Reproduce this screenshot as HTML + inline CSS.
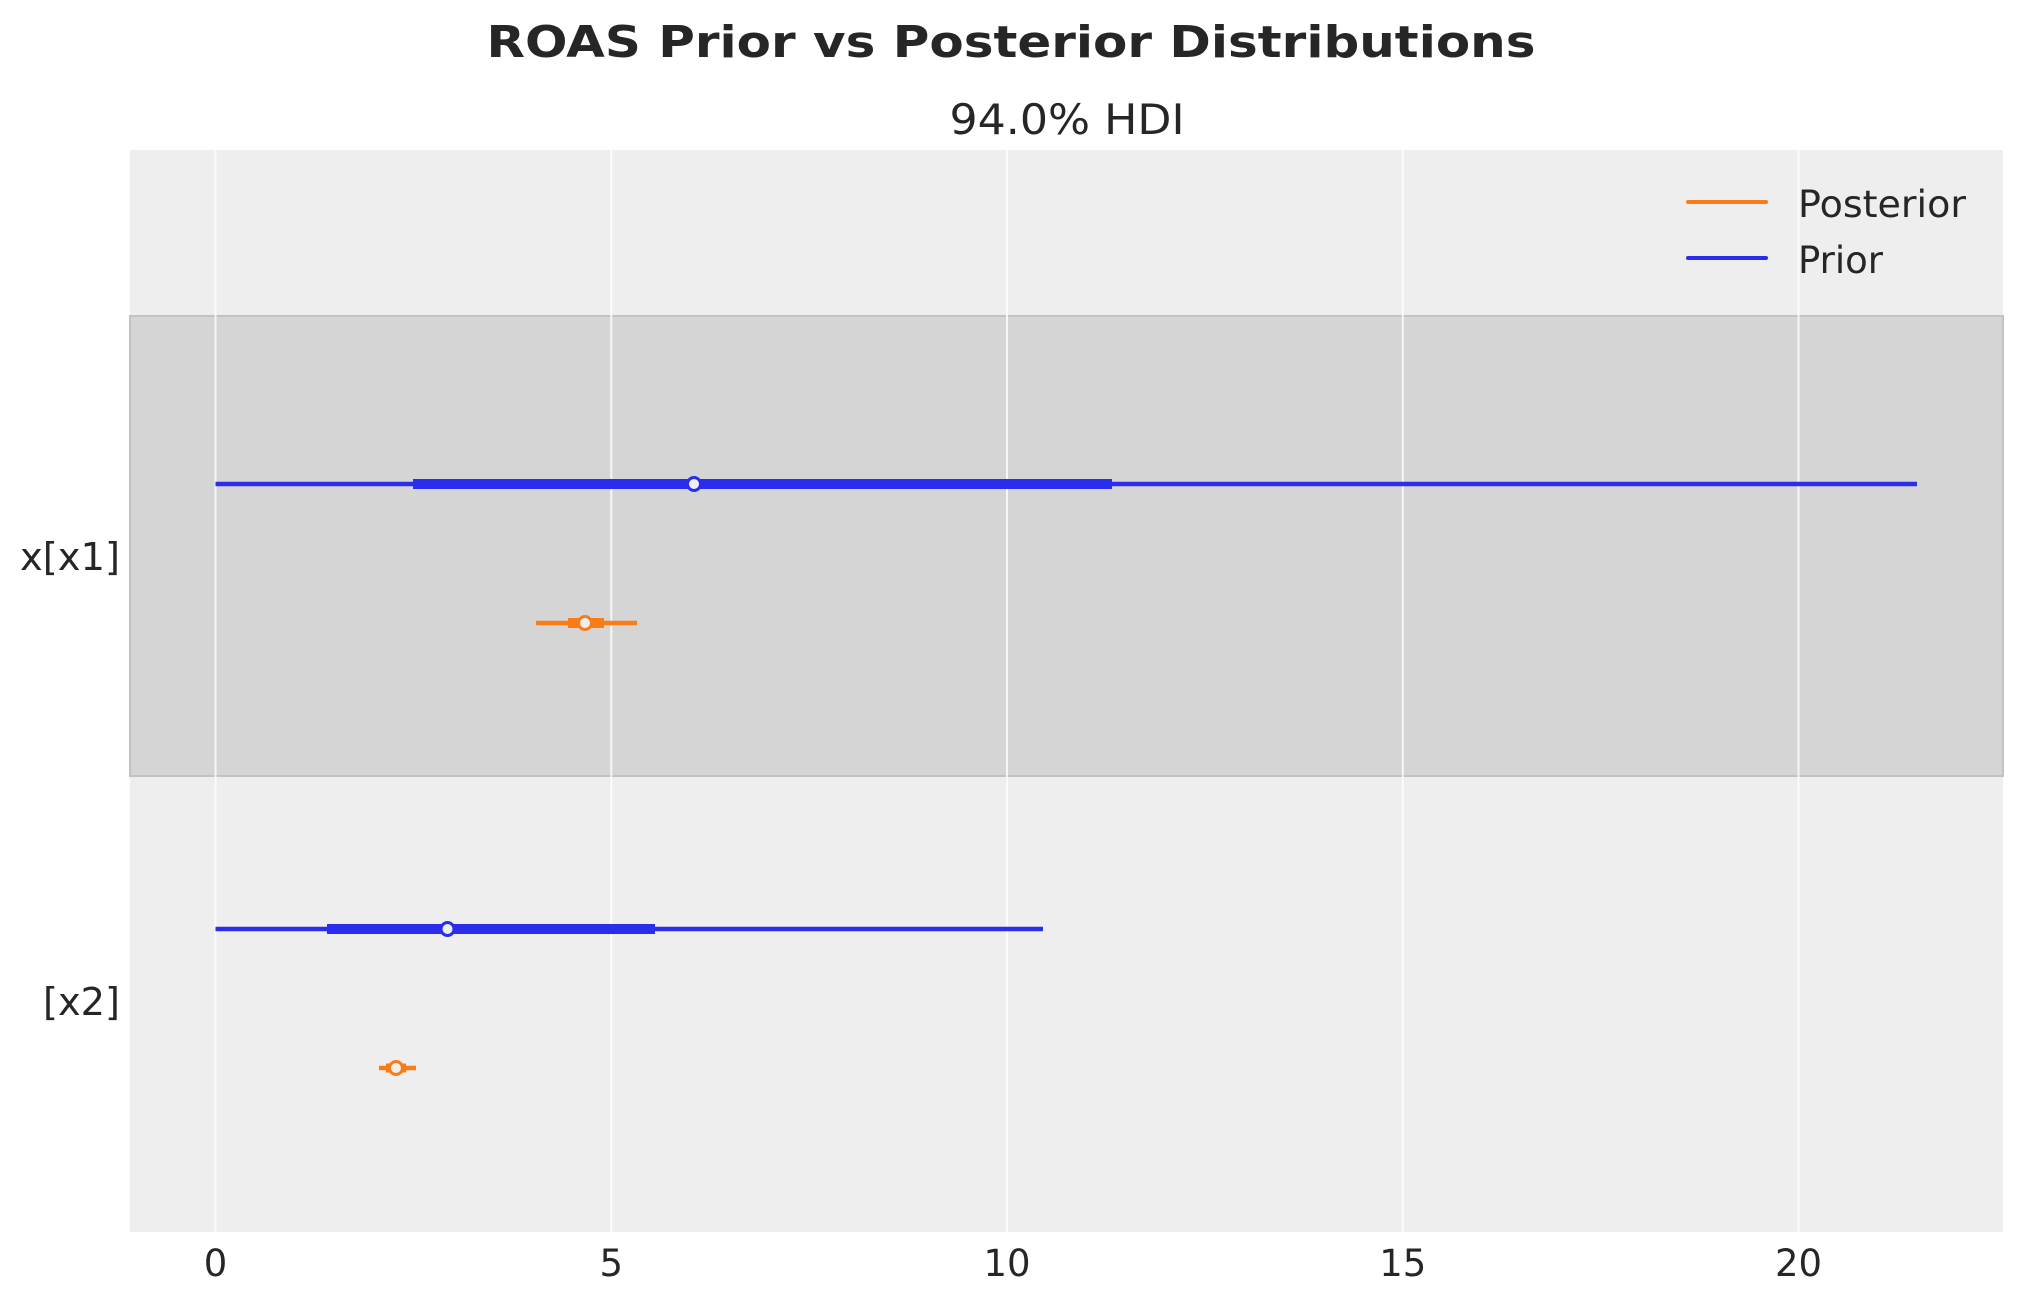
<!DOCTYPE html>
<html><head><meta charset="utf-8"><style>html,body{margin:0;padding:0;background:#fff}</style></head>
<body>
<svg width="2023" height="1303" xmlns="http://www.w3.org/2000/svg" font-family="DejaVu Sans, Liberation Sans, sans-serif" fill="#262626">
<rect x="130" y="150" width="1873" height="1082" fill="#eeeeee"/>
<rect x="130" y="316" width="1873" height="460" fill="#d5d5d5" stroke="#c2c2c2" stroke-width="2"/>
<g stroke="#ffffff" stroke-width="2" opacity="0.8">
<line x1="215.5" y1="150" x2="215.5" y2="1232"/>
<line x1="611.3" y1="150" x2="611.3" y2="1232"/>
<line x1="1007" y1="150" x2="1007" y2="1232"/>
<line x1="1402.8" y1="150" x2="1402.8" y2="1232"/>
<line x1="1798.5" y1="150" x2="1798.5" y2="1232"/>
</g>
<text x="1011" y="57" text-anchor="middle" font-weight="bold" font-size="44" textLength="1049" lengthAdjust="spacingAndGlyphs">ROAS Prior vs Posterior Distributions</text>
<text x="1067" y="134" text-anchor="middle" font-size="42" textLength="235" lengthAdjust="spacingAndGlyphs">94.0% HDI</text>
<g stroke="#2a2eec">
<line x1="215.5" y1="484" x2="1917" y2="484" stroke-width="4.5"/>
<line x1="413" y1="484" x2="1112" y2="484" stroke-width="10"/>
</g>
<circle cx="694" cy="484" r="6.5" fill="#eeeeee" stroke="#2a2eec" stroke-width="3"/>
<g stroke="#fa7c17">
<line x1="536" y1="623" x2="637" y2="623" stroke-width="4.5"/>
<line x1="568" y1="623" x2="604" y2="623" stroke-width="10"/>
</g>
<circle cx="585" cy="623" r="6.5" fill="#eeeeee" stroke="#fa7c17" stroke-width="3"/>
<g stroke="#2a2eec">
<line x1="215.5" y1="929" x2="1043" y2="929" stroke-width="4.5"/>
<line x1="327" y1="929" x2="655" y2="929" stroke-width="10"/>
</g>
<circle cx="447.5" cy="929" r="6.5" fill="#eeeeee" stroke="#2a2eec" stroke-width="3"/>
<g stroke="#fa7c17">
<line x1="379" y1="1068" x2="416" y2="1068" stroke-width="4.5"/>
<line x1="386" y1="1068" x2="406" y2="1068" stroke-width="9"/>
</g>
<circle cx="396" cy="1068" r="6.5" fill="#eeeeee" stroke="#fa7c17" stroke-width="3"/>
<text x="120" y="570" text-anchor="end" font-size="38" textLength="100" lengthAdjust="spacingAndGlyphs">x[x1]</text>
<text x="120" y="1015" text-anchor="end" font-size="38" textLength="77" lengthAdjust="spacingAndGlyphs">[x2]</text>
<g font-size="37" text-anchor="middle">
<text x="215.5" y="1276">0</text>
<text x="611.3" y="1276">5</text>
<text x="1007" y="1276">10</text>
<text x="1402.8" y="1276">15</text>
<text x="1798.5" y="1276">20</text>
</g>
<line x1="1688" y1="202" x2="1766" y2="202" stroke="#fa7c17" stroke-width="4" stroke-linecap="round"/>
<line x1="1688" y1="258" x2="1766" y2="258" stroke="#2a2eec" stroke-width="4" stroke-linecap="round"/>
<text x="1798" y="217" font-size="37" textLength="168" lengthAdjust="spacingAndGlyphs">Posterior</text>
<text x="1798" y="273" font-size="37">Prior</text>
</svg>
</body></html>
